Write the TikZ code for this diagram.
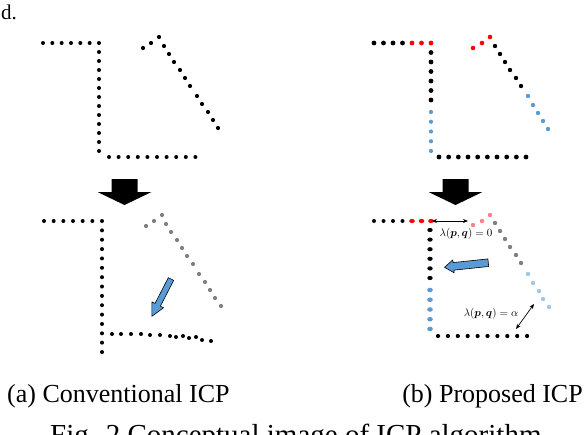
\documentclass[tikz,border=0pt]{standalone}
\usepackage{amsmath,amssymb}
\usepackage{fontspec}
\setmainfont{Liberation Serif}
\usepackage{xcolor}
\usetikzlibrary{arrows.meta,calc}

\definecolor{ptred}{RGB}{255,0,0}
\definecolor{ptblue}{RGB}{91,155,213}
\definecolor{ptpink}{RGB}{255,128,128}
\definecolor{ptgray}{RGB}{128,128,128}
\definecolor{ptlblue}{RGB}{160,198,232}

\tikzset{
    movearrow/.style={fill=ptblue, draw=black, line width=0.6pt, line join=round},
    dist/.style={<->, >={Stealth[length=5pt,width=4pt]}, line width=0.7pt},
    lbl/.style={font=\fontsize{11}{13}\selectfont, inner sep=0pt},
    captext/.style={font=\fontsize{26}{30}\selectfont, inner sep=0pt}
}

\begin{document}
\begin{tikzpicture}[x=1pt,y=-1pt]
    \clip (0,0) rectangle (586,434);
    \node[anchor=base west, font=\fontsize{21}{25}\selectfont, inner sep=0pt] (tag) at (1,19) {d.};

    % (a) before matching
    \foreach \i in {0,...,6} \fill (43+\i*9.33,43) circle[radius=2pt];
    \foreach \i in {1,...,12} \fill (99,43+\i*9) circle[radius=2pt];
    \foreach \i in {0,...,9} \fill (109+\i*9.6,157) circle[radius=2pt];
    \foreach \x/\y in {143/48,151/43,159/37,164/46,169/54,174/62,180/70,185/78,190/86,197/96,202/104,208/112,213/120,218/128}
        \fill (\x,\y) circle[radius=2.1pt];

    % (b) before matching
    \foreach \i in {0,...,3} \fill (374+\i*9.5,43) circle[radius=2.4pt];
    \foreach \i in {0,1,2} \fill[ptred] (412+\i*9.5,43) circle[radius=2.4pt];
    \foreach \i in {1,...,6} \fill (431,43+\i*9.5) circle[radius=2.4pt];
    \foreach \i in {0,...,4} \fill[ptblue] (431,112+\i*9.75) circle[radius=2.1pt];
    \foreach \i in {0,...,9} \fill (439+\i*9.67,157) circle[radius=2.4pt];
    \foreach \x/\y in {473/48,482/43,490/37} \fill[ptred] (\x,\y) circle[radius=2.3pt];
    \foreach \x/\y in {495/46,500/54,505/62,510/70,516/78,521/86} \fill (\x,\y) circle[radius=2.2pt];
    \foreach \x/\y in {528/96,533/105,538/113,543/121,548/129} \fill[ptblue] (\x,\y) circle[radius=2.2pt];

    % big arrows down
    \foreach \cx in {124.5,455.5}
        \fill (\cx-13,179) -- (\cx+13,179) -- (\cx+13,192) -- (\cx+27,192) -- (\cx,205) -- (\cx-27,192) -- (\cx-13,192) -- cycle;

    % (a) after matching
    \foreach \i in {0,...,6} \fill (44+\i*9.67,221) circle[radius=2pt];
    \foreach \i in {1,...,14} \fill (102,221+\i*9.36) circle[radius=2pt];
    \foreach \x/\y in {112/334,121/334,131/334,141/334,150/335,160/335,170/336,176/337,183/336,189/338,196/337,202/340,211/341}
        \fill (\x,\y) circle[radius=2pt];
    \foreach \x/\y in {146/226,154/221,162/215,166/224,171/232,177/240,182/248,187/256,193/264,199/274,205/282,210/290,215/298,221/306}
        \fill[ptgray] (\x,\y) circle[radius=2.1pt];
    \begin{scope}[shift={(171,279)}, rotate=242.8]
        \draw[movearrow] (0,-3) -- (29,-3) -- (29,-6.5) -- (42,0) -- (29,6.5) -- (29,3) -- (0,3) -- cycle;
    \end{scope}

    % (b) after matching
    \foreach \i in {0,...,3} \fill (374+\i*9.5,221) circle[radius=2pt];
    \foreach \i in {0,1,2} \fill[ptred] (412+\i*9.5,221) ellipse[x radius=2.8pt, y radius=2.1pt];
    \foreach \i in {0,...,5} \fill (430,230+\i*9.6) ellipse[x radius=2.7pt, y radius=2.1pt];
    \foreach \i in {0,...,4} \fill[ptblue] (430,290+\i*9.75) ellipse[x radius=2.8pt, y radius=2.3pt];
    \foreach \i in {0,...,9} \fill (438+\i*9.9,336) circle[radius=2.1pt];
    \foreach \x/\y in {473/225,482/221,490/215} \fill[ptpink] (\x,\y) circle[radius=2.2pt];
    \foreach \x/\y in {495/223,500/231,505/239,510/247,516/255,521/263} \fill[ptgray] (\x,\y) circle[radius=2.2pt];
    \foreach \x/\y in {528/274,533/283,539/291,543/299,549/307} \fill[ptlblue] (\x,\y) circle[radius=2.2pt];
    \begin{scope}[shift={(488.3,262.7)}, rotate=186]
        \draw[movearrow] (0,-3.8) -- (35,-3.8) -- (35,-6.5) -- (44,0) -- (35,6.5) -- (35,3.8) -- (0,3.8) -- cycle;
    \end{scope}

    \coordinate (gapL) at (432,221);
    \coordinate (gapR) at (468,221);
    \draw[dist] (gapL) -- (gapR);
    \node[lbl] (lamzero) at (466,234) {$\lambda(\boldsymbol{p},\boldsymbol{q})=0$};
    \coordinate (farA) at (534,304);
    \coordinate (farB) at (516,329);
    \draw[dist] (farA) -- (farB);
    \node[lbl] (lamalpha) at (491,314) {$\lambda(\boldsymbol{p},\boldsymbol{q})=\alpha$};

    \node[captext, anchor=base west] (capa) at (7,402) {(a) Conventional ICP};
    \node[captext, anchor=base east] (capb) at (583,402) {(b) Proposed ICP};
    \node[captext, anchor=base west, font=\fontsize{29}{33}\selectfont] (figcap) at (50,444) {Fig. 2 Conceptual image of ICP algorithm};
\end{tikzpicture}
\end{document}
